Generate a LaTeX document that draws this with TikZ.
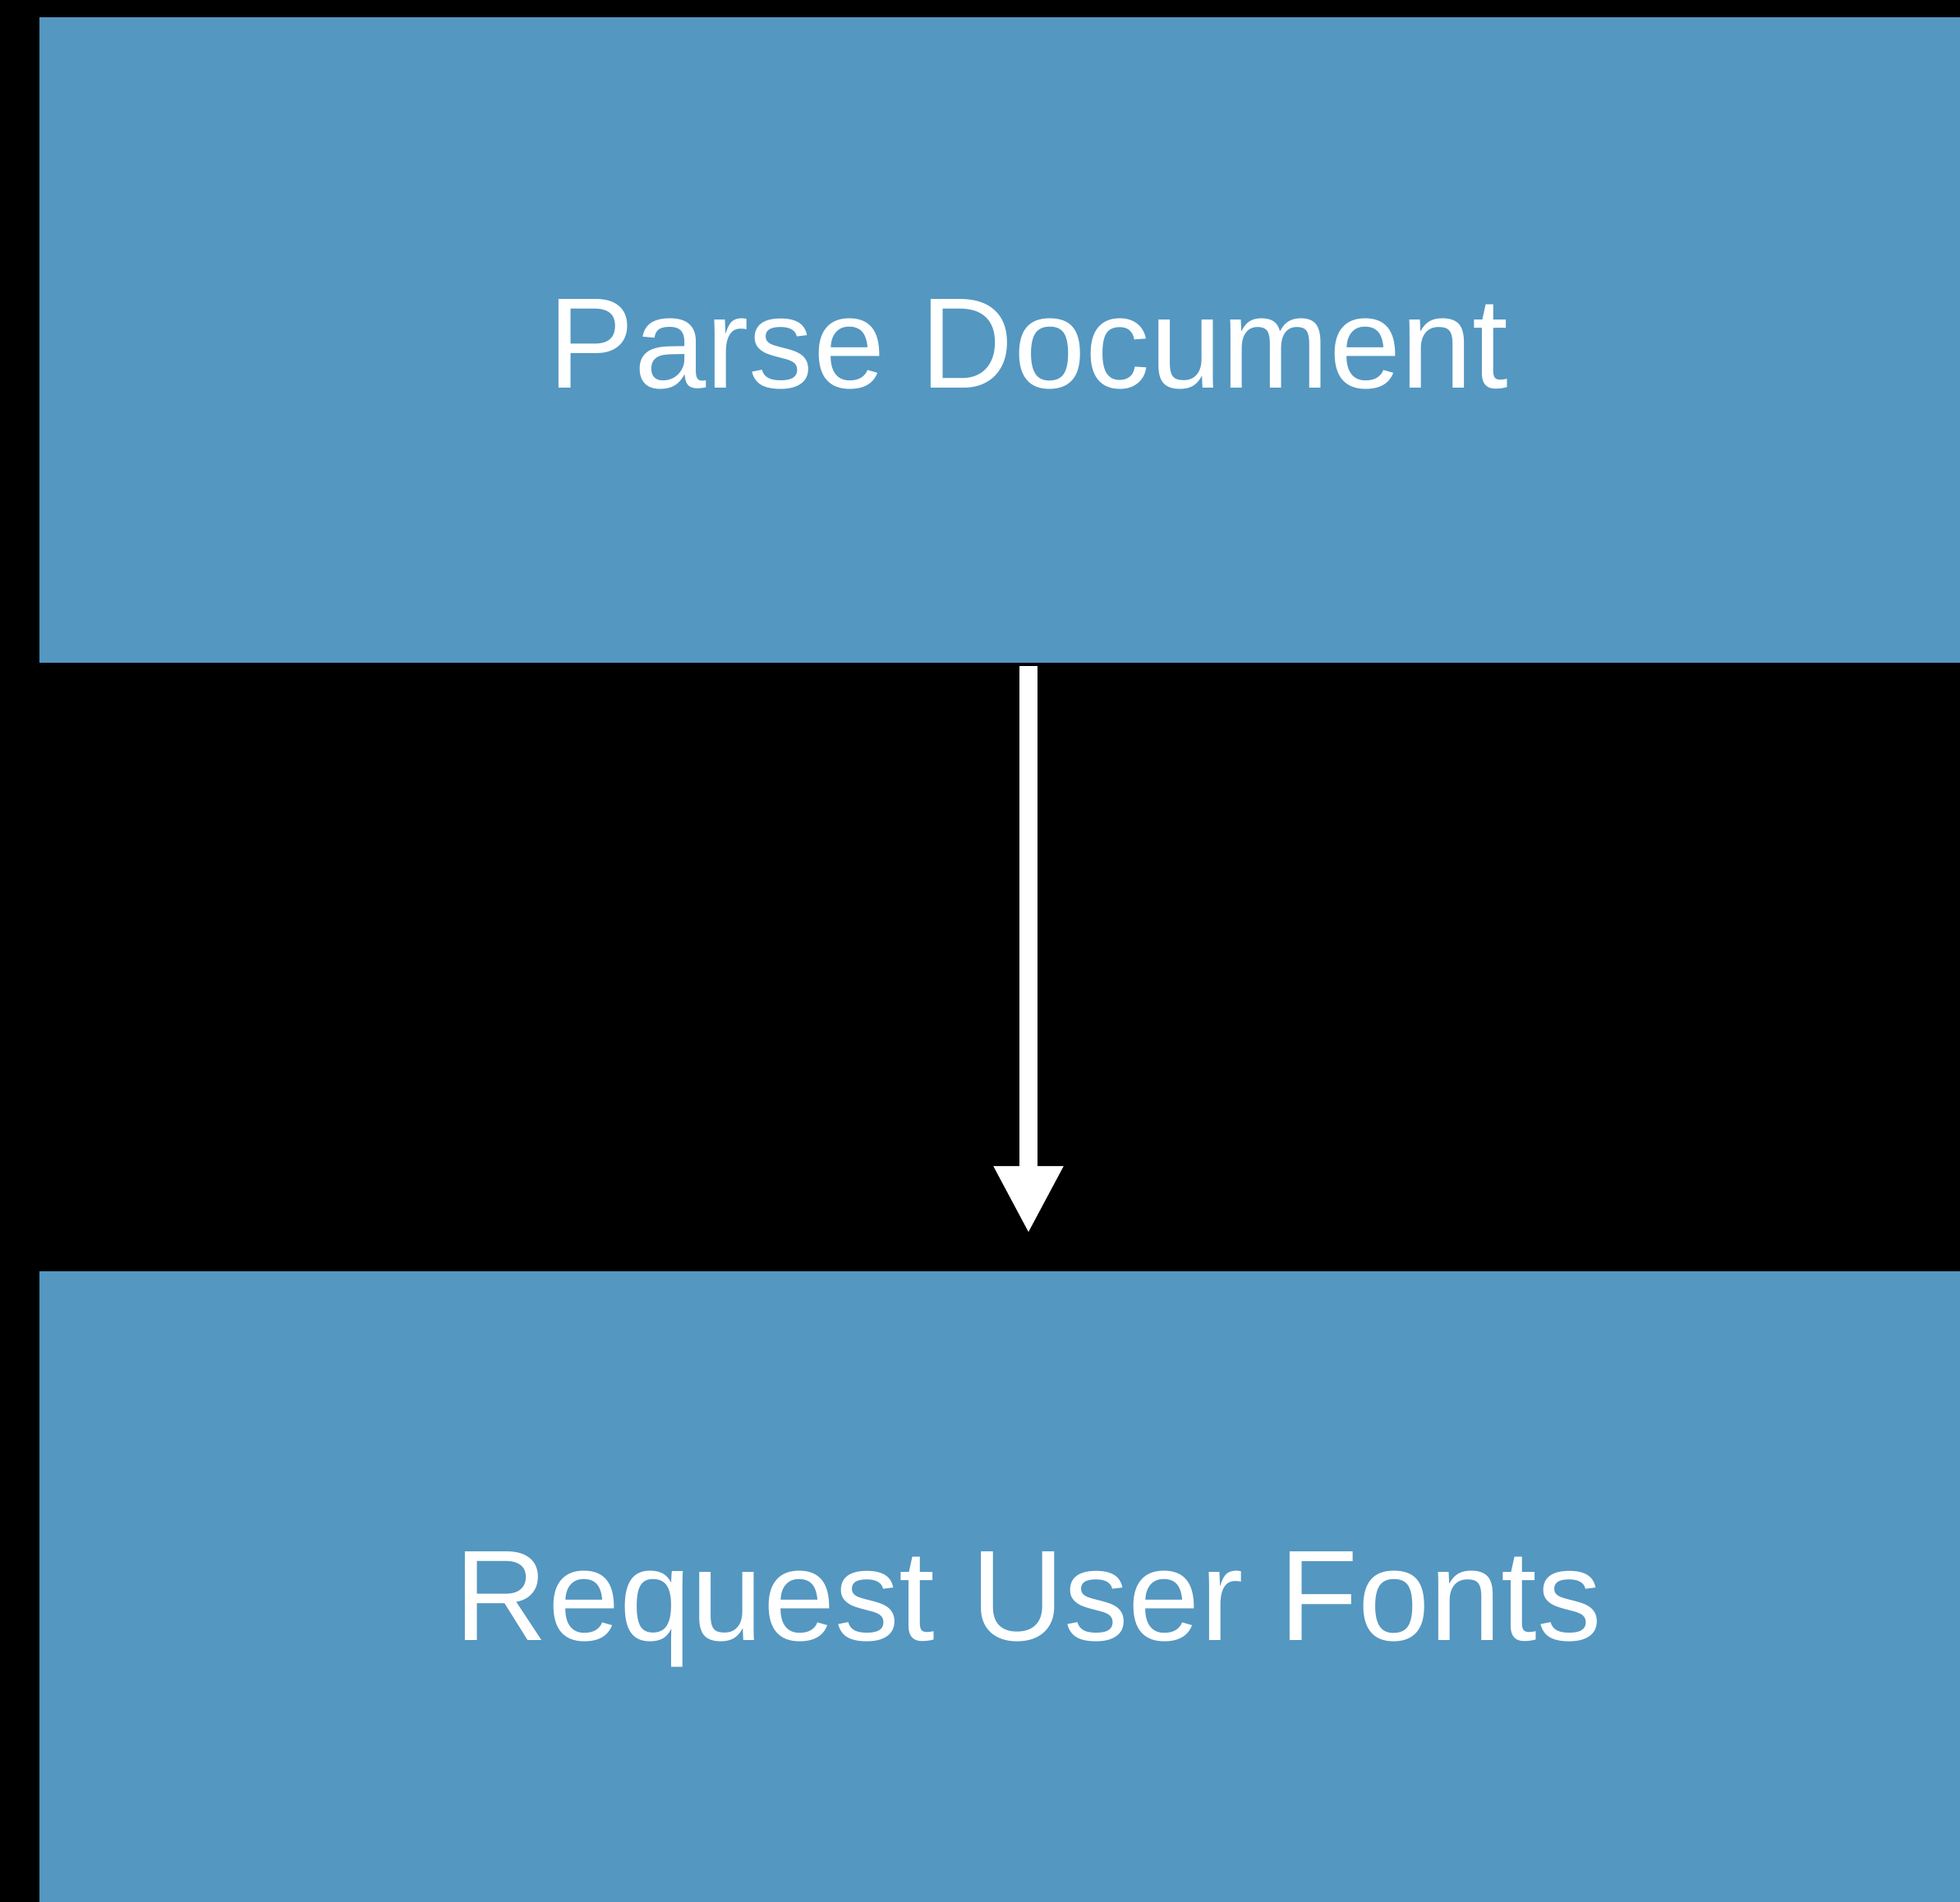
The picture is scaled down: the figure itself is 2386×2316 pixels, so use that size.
\documentclass[tikz,border=0pt]{standalone}
\usepackage{fontspec}
\setmainfont{Liberation Sans}
\usetikzlibrary{arrows.meta}
\definecolor{boxblue}{RGB}{84,151,193}
\begin{document}
\begin{tikzpicture}[x=1pt,y=-1pt,
  stepbox/.style={fill=boxblue,draw=none,inner sep=0pt,minimum width=2338pt},
  steplabel/.style={text=white,inner sep=0pt,anchor=base,font=\fontsize{157}{188}\selectfont},
  flowarrow/.style={draw=white,line width=22pt,-{Triangle[length=82pt,width=79pt]}}]
\fill[black] (0,0) rectangle (2386,2316);
\useasboundingbox (0,0) rectangle (2386,2316);
\node[stepbox,minimum height=786pt] (parse) at (1217,414) {};
\node[stepbox,minimum height=768pt] (request) at (1217,1932) {};
\node[steplabel] (parsetext) at (1252,472) {Parse Document};
\node[steplabel] (requesttext) at (1252,1997) {Request User Fonts};
\draw[flowarrow,shorten <=4pt,shorten >=46pt] (parsetext |- parse.south) -- (parsetext |- request.north);
\end{tikzpicture}
\end{document}
